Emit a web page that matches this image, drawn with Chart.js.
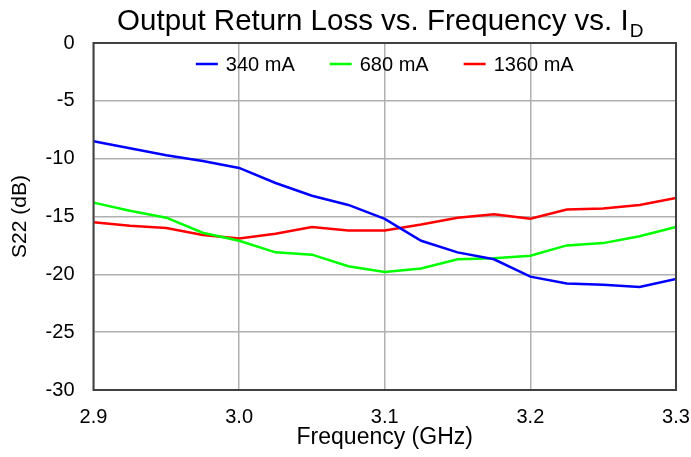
<!DOCTYPE html>
<html>
<head>
<meta charset="utf-8">
<script src="https://cdn.jsdelivr.net/npm/chart.js@4.4.1/dist/chart.umd.min.js"></script>
<style>
  html, body { margin: 0; padding: 0; background: #fff; }
  #wrap { width: 691px; height: 457px; position: relative; }
</style>
</head>
<body>
<div id="wrap"><canvas id="s22Chart"></canvas></div>
<script>
// ---- data ----
const freqGHz = [2.9, 2.925, 2.95, 2.975, 3.0, 3.025, 3.05, 3.075, 3.1,
                 3.125, 3.15, 3.175, 3.2, 3.225, 3.25, 3.275, 3.3];
const s22_340 = [-8.5, -9.1, -9.7, -10.2, -10.8, -12.1, -13.2, -14.0, -15.2,
                 -17.1, -18.1, -18.7, -20.2, -20.8, -20.9, -21.1, -20.4];
const s22_680 = [-13.8, -14.5, -15.1, -16.4, -17.1, -18.1, -18.3, -19.3, -19.8,
                 -19.5, -18.7, -18.6, -18.4, -17.5, -17.3, -16.7, -15.9];
const s22_1360 = [-15.5, -15.8, -16.0, -16.6, -16.9, -16.5, -15.9, -16.2, -16.2,
                  -15.7, -15.1, -14.8, -15.2, -14.4, -14.3, -14.0, -13.4];
const seriesLabels = ['340 mA', '680 mA', '1360 mA'];
const seriesColors = ['#0000ff', '#00ff00', '#ff0000'];
const xTicks = [2.9, 3.0, 3.1, 3.2, 3.3];
const yTicks = [0, -5, -10, -15, -20, -25, -30];

const FONT = 'Liberation Sans, Arial, sans-serif';

function toPoints(ys) {
  return ys.map((y, i) => ({ x: freqGHz[i], y }));
}

// frame around the plot, legend inside the top of the plot, title with subscript
const decorPlugin = {
  id: 'decor',
  afterDatasetsDraw(chart) {
    const { ctx, chartArea: a } = chart;
    ctx.save();
    ctx.strokeStyle = '#404040';
    ctx.lineWidth = 2;
    ctx.strokeRect(a.left, a.top, a.right - a.left, a.bottom - a.top);
    ctx.restore();
  },
  afterDraw(chart) {
    const { ctx, chartArea: a } = chart;
    const midX = (a.left + a.right) / 2;

    // legend
    const lineLen = 22, gapText = 8, gapItem = 35, legY = 64;
    ctx.save();
    ctx.font = '20px ' + FONT;
    ctx.textBaseline = 'middle';
    const items = chart.data.datasets.map(ds => ({
      ds, w: lineLen + gapText + ctx.measureText(ds.label).width
    }));
    const total = items.reduce((s, it) => s + it.w, 0) + gapItem * (items.length - 1);
    let x = midX - total / 2;
    items.forEach(it => {
      ctx.strokeStyle = it.ds.borderColor;
      ctx.lineWidth = 2.5;
      ctx.beginPath();
      ctx.moveTo(x, legY);
      ctx.lineTo(x + lineLen, legY);
      ctx.stroke();
      ctx.fillStyle = '#000';
      ctx.fillText(it.ds.label, x + lineLen + gapText, legY + 1);
      x += it.w + gapItem;
    });

    // title (sits slightly left of the plot centre)
    const main = 'Output Return Loss vs. Frequency vs. I';
    const sub = 'D';
    ctx.textBaseline = 'alphabetic';
    ctx.font = '29.5px ' + FONT;
    const wMain = ctx.measureText(main).width;
    ctx.font = '19px ' + FONT;
    const wSub = ctx.measureText(sub).width;
    const x0 = midX - 5 - (wMain + wSub) / 2;
    ctx.font = '29.5px ' + FONT;
    ctx.fillText(main, x0, 30);
    ctx.font = '19px ' + FONT;
    ctx.fillText(sub, x0 + wMain + 1, 37);
    ctx.restore();
  }
};

const datasets = [s22_340, s22_680, s22_1360].map((ys, i) => ({
  label: seriesLabels[i],
  data: toPoints(ys),
  borderColor: seriesColors[i],
  backgroundColor: seriesColors[i],
  borderWidth: 2.5,
  pointRadius: 0,
  tension: 0,
  fill: false
}));

new Chart(document.getElementById('s22Chart'), {
  type: 'line',
  data: { datasets },
  options: {
    responsive: true,
    maintainAspectRatio: false,
    animation: false,
    layout: { padding: { top: 43, right: 15, left: 0, bottom: 0 } },
    plugins: {
      title: { display: false },
      tooltip: { enabled: false },
      legend: { display: false }
    },
    scales: {
      x: {
        type: 'linear',
        min: 2.9,
        max: 3.3,
        afterBuildTicks(scale) {
          scale.ticks = xTicks.map(v => ({ value: v }));
        },
        afterFit(scale) {
          scale.height = 67;
          scale.paddingLeft = 0;
          scale.paddingRight = 0;
        },
        grid: { color: '#b0b0b0', lineWidth: 1.5, drawTicks: false },
        border: { display: false },
        ticks: {
          color: '#000',
          font: { family: FONT, size: 20 },
          padding: 15,
          maxRotation: 0,
          callback: v => v.toFixed(1)
        },
        title: {
          display: true,
          text: 'Frequency (GHz)',
          color: '#000',
          font: { family: FONT, size: 23 },
          padding: { top: 0, bottom: 6 }
        }
      },
      y: {
        type: 'linear',
        min: -30,
        max: 0,
        afterBuildTicks(scale) {
          scale.ticks = yTicks.map(v => ({ value: v }));
        },
        afterFit(scale) {
          scale.width = 93.5;
          scale.paddingTop = 0;
          scale.paddingBottom = 0;
        },
        grid: { color: '#b0b0b0', lineWidth: 1.5, drawTicks: false },
        border: { display: false },
        ticks: {
          color: '#000',
          font: { family: FONT, size: 20 },
          padding: 19,
          callback: v => String(v)
        },
        title: {
          display: true,
          text: 'S22 (dB)',
          color: '#000',
          font: { family: FONT, size: 21 },
          padding: { top: 8, bottom: 0 }
        }
      }
    }
  },
  plugins: [decorPlugin]
});
</script>
</body>
</html>
